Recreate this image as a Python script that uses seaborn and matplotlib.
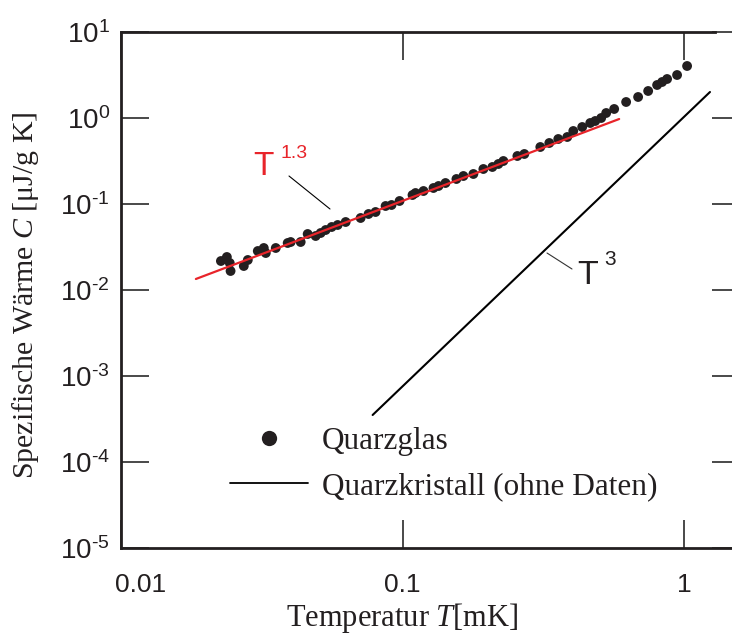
import matplotlib
matplotlib.use("Agg")
import matplotlib.pyplot as plt
import matplotlib.transforms as mtransforms
from matplotlib.lines import Line2D
import pandas as pd
import seaborn as sns

# ---- data ----
T_glas = [0.02264, 0.02377, 0.02434, 0.0245, 0.0273, 0.02821, 0.03061, 0.03215, 0.03268, 0.03546,
          0.03909, 0.04006, 0.04347, 0.04603, 0.04914, 0.05119, 0.05333, 0.05601, 0.05883, 0.06281,
          0.07098, 0.07573, 0.0802, 0.08706, 0.09141, 0.09759, 0.1085, 0.1112, 0.1187, 0.1288,
          0.1342, 0.1421, 0.1554, 0.1645, 0.1785, 0.1937, 0.2085, 0.219, 0.2281, 0.2558,
          0.2708, 0.3086, 0.3321, 0.3574, 0.3847, 0.4041, 0.4347, 0.4642, 0.4835, 0.5077,
          0.5289, 0.5646, 0.6226, 0.6867, 0.7455, 0.8022, 0.8356, 0.8703, 0.9444, 1.025]
C_glas = [0.02173, 0.0242, 0.02061, 0.01663, 0.01901, 0.02233, 0.02841, 0.03079, 0.02692, 0.03079,
          0.0352, 0.03615, 0.03615, 0.04479, 0.04245, 0.046, 0.04984, 0.05401, 0.057, 0.06175,
          0.06874, 0.07652, 0.08072, 0.09478, 0.09737, 0.1084, 0.1272, 0.1342, 0.1416, 0.1535,
          0.1619, 0.1754, 0.1953, 0.2116, 0.2233, 0.2553, 0.2693, 0.2918, 0.3162, 0.3615,
          0.3815, 0.46, 0.5122, 0.57, 0.6013, 0.7061, 0.7858, 0.8748, 0.9229, 1.0,
          1.143, 1.273, 1.535, 1.755, 2.061, 2.42, 2.622, 2.841, 3.162, 4.025]

T_fit = [0.01845, 0.588]          # T^1.3 line
C_fit = [0.01343, 0.973]
T_kristall = [0.0783, 1.236]      # T^3 line
C_kristall = [3.52e-4, 2.006]

x_ticks = [0.01, 0.1, 1]
x_ticklabels = ["0.01", "0.1", "1"]
y_exponents = [-5, -4, -3, -2, -1, 0, 1]

legend_labels = ["Quarzglas", "Quarzkristall (ohne Daten)"]

# ---- style ----
sns.set_style("ticks")
plt.rcParams.update({
    "font.family": ["Liberation Sans", "DejaVu Sans"],
    "mathtext.fontset": "custom",
    "mathtext.rm": "Liberation Sans",
    "mathtext.it": "Liberation Serif:italic",
    "mathtext.bf": "Liberation Sans:bold",
})

W, H = 732, 635
fig = plt.figure(figsize=(W / 100, H / 100), dpi=100)
ax = fig.add_axes([121 / W, 87 / H, 619 / W, 516 / H])
ax.set_xscale("log")
ax.set_yscale("log")

dark = "#231f20"
df = pd.DataFrame({"T": T_glas, "C": C_glas})
sns.scatterplot(data=df, x="T", y="C", ax=ax, s=50, color=dark, edgecolor="none",
                linewidth=0, zorder=3, legend=False)
sns.lineplot(x=T_fit, y=C_fit, ax=ax, color="#e8242a", lw=1.6, zorder=4)
sns.lineplot(x=T_kristall, y=C_kristall, ax=ax, color="black", lw=1.5, zorder=2)

ax.set_xlim(0.01, 1.58)
ax.set_ylim(1e-5, 10)
ax.set_xticks(x_ticks)
ax.set_xticklabels(x_ticklabels)
ax.set_yticks([10.0 ** e for e in y_exponents])
ax.set_yticklabels([r"$\mathregular{10^{\text{%s}}}$" % ("-%d" % -e if e < 0 else "%d" % e)
                    for e in y_exponents])
ax.minorticks_off()
ax.tick_params(axis="both", which="major", direction="in", length=20, width=1.3,
               color="#3a3a3a", top=True, right=True, labelcolor="#231f20")
ax.tick_params(axis="x", pad=18, labelsize=19)
ax.tick_params(axis="y", pad=8, labelsize=20)

for s in ax.spines.values():
    s.set_linewidth(2.0)
    s.set_color(dark)
ax.spines["top"].set_bounds(0.01, 1.288)

# shift the 0.01 label a little to the right as in the reference
lab0 = ax.get_xticklabels()[0]
lab0.set_transform(lab0.get_transform() + mtransforms.ScaledTranslation(20 / 100, 0, fig.dpi_scale_trans))

serif = ["Liberation Serif", "DejaVu Serif"]
ax.set_ylabel(r"Spezifische Wärme $\mathit{C}$ [μJ/g K]", fontsize=21.5, family=serif, color=dark)
ax.yaxis.set_label_coords(-0.13, 0.49)
ax.set_xlabel(r"Temperatur $\mathit{T}$[mK]", fontsize=22, family=serif, color=dark)
ax.xaxis.set_label_coords(0.454, -0.103)

# legend
handles = [Line2D([], [], ls="none", marker="o", markersize=11, color=dark, markeredgewidth=0),
           Line2D([], [], color="black", lw=1.3)]
lfs = 22.5
fs_px = lfs * 100 / 72
ax.legend(handles, legend_labels, loc="center left",
          bbox_to_anchor=(230 / W, 1 - 464 / H), bbox_transform=fig.transFigure,
          frameon=False, borderpad=0, borderaxespad=0, handlelength=78 / fs_px,
          handletextpad=14 / fs_px, labelspacing=0.5,
          prop={"family": serif, "size": lfs}, labelcolor=dark)

# annotations
def fp(x, y):
    return (x / W, 1 - y / H)

fig.text(*fp(253, 175), "T", color="#e8242a", fontsize=24, ha="left", va="baseline")
fig.text(*fp(281, 158), "1.3", color="#e8242a", fontsize=14, ha="left", va="baseline")
fig.add_artist(Line2D([fp(289, 176)[0], fp(330, 209)[0]], [fp(289, 176)[1], fp(330, 209)[1]],
                      transform=fig.transFigure, color="black", lw=0.8))

fig.text(*fp(577, 284), "T", color=dark, fontsize=24.5, ha="left", va="baseline")
fig.text(*fp(604, 265), "3", color=dark, fontsize=15, ha="left", va="baseline")
fig.add_artist(Line2D([fp(547, 253)[0], fp(572, 269)[0]], [fp(547, 253)[1], fp(572, 269)[1]],
                      transform=fig.transFigure, color="#333333", lw=0.8))

fig.savefig("out.png", dpi=100)
